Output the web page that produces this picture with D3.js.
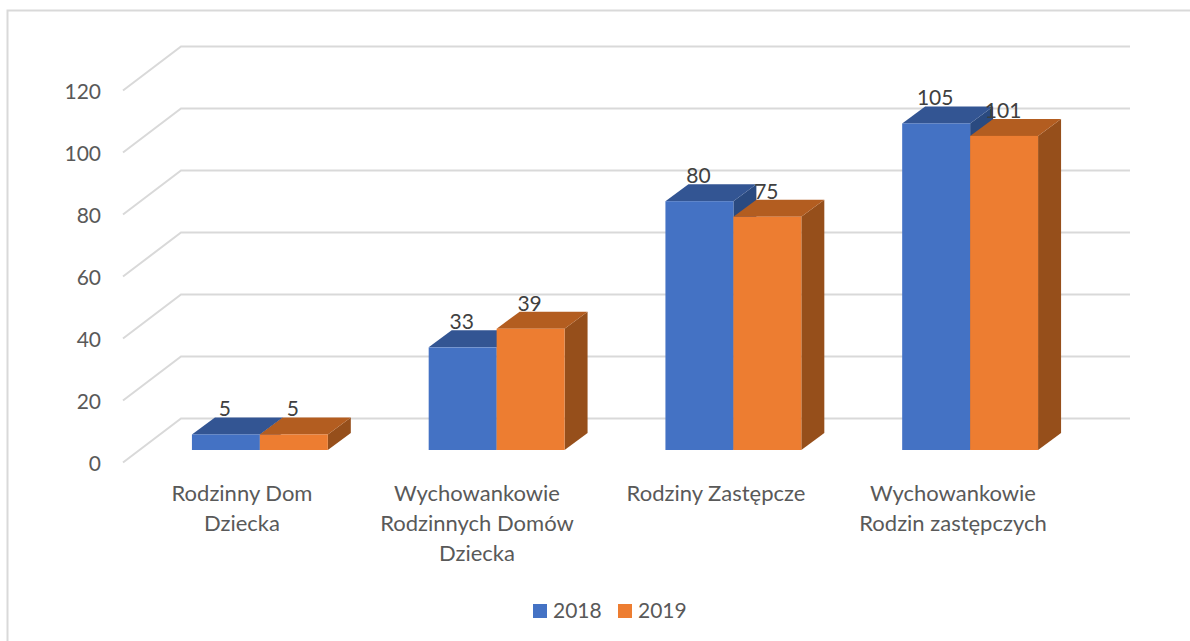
<!DOCTYPE html>
<html>
<head>
<meta charset="utf-8">
<script src="https://cdn.jsdelivr.net/npm/d3@7"></script>
<style>
  body { margin: 0; background: #fff; }
  text { font-family: Lato, "Open Sans", sans-serif; }
</style>
</head>
<body>
<svg id="chart" width="1190" height="641"></svg>
<script>
const categories = [
  ["Rodzinny Dom", "Dziecka"],
  ["Wychowankowie", "Rodzinnych Domów", "Dziecka"],
  ["Rodziny Zastępcze"],
  ["Wychowankowie", "Rodzin zastępczych"]
];
const seriesNames = ["2018", "2019"];
const values2018 = [5, 33, 80, 105];
const values2019 = [5, 39, 75, 101];
const tickValues = [0, 20, 40, 60, 80, 100, 120];

const front = { 2018: "#4472c4", 2019: "#ed7d31" };
const topFace = { 2018: "#335593", 2019: "#b35d20" };
const sideFace = { 2018: "#2a4a80", 2019: "#964f1b" };
const axisColor = "#595959";
const gridColor = "#d9d9d9";

const svg = d3.select("#chart");

// frame of the chart, open on the right and at the bottom
svg.append("path")
  .attr("d", "M7.5,641V10.5H1190")
  .attr("fill", "none")
  .attr("stroke", gridColor)
  .attr("stroke-width", 2);

// back wall and front edge use the same step, shifted by the depth of the floor
const yBack = d3.scaleLinear().domain([0, 120]).range([418.5, 46.5]);
const floorDx = 58, floorDy = 44;

const grid = svg.append("g");
tickValues.forEach(t => {
  grid.append("path")
    .attr("d", d3.line()([
      [123, yBack(t) + floorDy],
      [123 + floorDx, yBack(t)],
      [1130, yBack(t)]
    ]))
    .attr("fill", "none")
    .attr("stroke", gridColor)
    .attr("stroke-width", 2);
});

// y axis labels
const yLabel = d3.scaleLinear().domain([0, 120]).range([471, 99]);
svg.append("g").selectAll("text")
  .data(tickValues)
  .enter().append("text")
  .attr("x", 101)
  .attr("y", d => yLabel(d))
  .attr("text-anchor", "end")
  .attr("font-size", 21)
  .attr("fill", axisColor)
  .text(d => d);

// bars
const x = d3.scaleBand()
  .domain(d3.range(categories.length))
  .range([141.5, 1088.5])
  .paddingInner(0.426)
  .paddingOuter(0.213);
const x1 = d3.scaleBand().domain(seriesNames).range([0, x.bandwidth()]);
const y = d3.scaleLinear().domain([0, 120]).range([450, 76.8]);
const dx = 23, dy = 17;

function poly(pts) { return d3.line()(pts) + "Z"; }

const bars = svg.append("g");
categories.forEach((c, i) => {
  seriesNames.forEach((name, j) => {
    const v = (j === 0 ? values2018 : values2019)[i];
    const x0 = x(i) + x1(name), x2 = x0 + x1.bandwidth();
    const y0 = y(0), yv = y(v);
    const g = bars.append("g");
    g.append("path").attr("fill", sideFace[name])
      .attr("d", poly([[x2, y0], [x2 + dx, y0 - dy], [x2 + dx, yv - dy], [x2, yv]]));
    g.append("path").attr("fill", topFace[name])
      .attr("d", poly([[x0, yv], [x0 + dx, yv - dy], [x2 + dx, yv - dy], [x2, yv]]));
    g.append("rect").attr("fill", front[name])
      .attr("x", x0).attr("y", yv)
      .attr("width", x2 - x0).attr("height", y0 - yv);
  });
});

// value labels above the bars
const labels = svg.append("g");
categories.forEach((c, i) => {
  seriesNames.forEach((name, j) => {
    const v = (j === 0 ? values2018 : values2019)[i];
    labels.append("text")
      .attr("x", x(i) + x1(name) + x1.bandwidth() / 2 - 1)
      .attr("y", y(v) - 18)
      .attr("text-anchor", "middle")
      .attr("font-size", 21)
      .attr("fill", "#404040")
      .text(v);
  });
});

// category labels
const catCenter = [242, 477, 716, 953];
const catLines = [501, 531, 561];
const cat = svg.append("g");
categories.forEach((lines, i) => {
  lines.forEach((line, k) => {
    cat.append("text")
      .attr("x", catCenter[i])
      .attr("y", catLines[k])
      .attr("text-anchor", "middle")
      .attr("font-size", 22)
      .attr("fill", axisColor)
      .text(line);
  });
});

// legend
const legendX = [533, 618];
seriesNames.forEach((name, j) => {
  svg.append("rect")
    .attr("x", legendX[j]).attr("y", 604)
    .attr("width", 14).attr("height", 14)
    .attr("fill", front[name]);
  svg.append("text")
    .attr("x", legendX[j] + 20).attr("y", 618)
    .attr("font-size", 21)
    .attr("fill", axisColor)
    .text(name);
});
</script>
</body>
</html>
